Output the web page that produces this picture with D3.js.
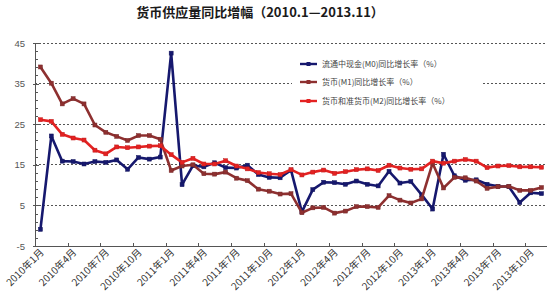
<!DOCTYPE html>
<html><head><meta charset="utf-8">
<script src="https://cdn.jsdelivr.net/npm/d3@7"></script>
<style>body{margin:0;background:#fff}svg{display:block}</style>
</head><body>
<svg id="c" width="550" height="300"></svg>
<script>
const title = "货币供应量同比增幅（2010.1—2013.11）";
const years = [2010, 2011, 2012, 2013];
const months = [];
years.forEach(y => { for (let m = 1; m <= 12; m++) { if (y === 2013 && m > 11) break; months.push(y + "年" + m + "月"); } });
const seriesNames = ["流通中现金(M0)同比增长率（%）", "货币(M1)同比增长率（%）", "货币和准货币(M2)同比增长率（%）"];
const m0 = [-0.9, 22.1, 15.9, 15.8, 15.2, 15.8, 15.6, 16.2, 13.9, 16.8, 16.4, 16.9,
  42.5, 10.1, 14.8, 14.5, 15.5, 14.3, 14.2, 14.9, 12.6, 11.9, 11.8, 13.7,
  3.4, 8.9, 10.7, 10.6, 10.2, 11.0, 10.2, 9.8, 13.4, 10.5, 10.9, 7.6,
  4.1, 17.6, 12.3, 11.2, 11.3, 10.2, 9.7, 9.6, 5.7, 8.1, 7.9];
const m1 = [39.1, 35.1, 30.0, 31.3, 30.0, 24.8, 23.0, 22.0, 21.0, 22.2, 22.2, 21.3,
  13.6, 14.7, 15.0, 12.8, 12.7, 13.2, 11.7, 11.1, 9.0, 8.5, 7.8, 7.9,
  3.2, 4.4, 4.5, 3.1, 3.6, 4.7, 4.7, 4.5, 7.4, 6.3, 5.6, 6.6,
  15.4, 9.3, 11.9, 11.8, 11.0, 9.2, 9.6, 9.7, 8.7, 8.7, 9.4];
const m2 = [26.1, 25.7, 22.5, 21.6, 21.1, 18.6, 17.7, 19.4, 19.2, 19.4, 19.6, 19.7,
  17.5, 15.6, 16.6, 15.2, 15.2, 16.0, 14.7, 14.0, 13.1, 12.8, 12.6, 13.8,
  12.5, 13.2, 13.7, 12.9, 13.3, 13.8, 14.0, 13.6, 14.9, 14.2, 13.9, 14.0,
  15.9, 15.4, 15.9, 16.3, 15.9, 14.3, 14.7, 14.8, 14.5, 14.5, 14.4];
const yTicks = [-5, 5, 15, 25, 35, 45];

const colors = ["#16186e", "#8e3030", "#e42222"];
const data = [m0, m1, m2];

const svg = d3.select("#c");
const L = 35, R = 547, T = 43, B = 246;
const x = d3.scaleBand().domain(d3.range(months.length)).range([L, R]).padding(0);
const cx = i => x(i) + x.bandwidth() / 2;
const y = d3.scaleLinear().domain([-5, 45]).range([B, T]);

svg.append("text").attr("x", 260).attr("y", 17).attr("text-anchor", "middle")
  .attr("font-family", "'Noto Sans CJK SC', sans-serif").attr("font-weight", "bold")
  .attr("font-size", 13).attr("fill", "#1a1a1a").text(title);

// gridlines
svg.append("g").selectAll("line").data(yTicks.filter(v => v > -5)).join("line")
  .attr("x1", L).attr("x2", R).attr("y1", d => y(d)).attr("y2", d => y(d))
  .attr("stroke", "#555").attr("stroke-width", 1).attr("stroke-dasharray", "2,2")
  .attr("shape-rendering", "crispEdges");

// y axis
const minor = d3.range(-5, 45.1, 2);
const yAxisG = svg.append("g");
yAxisG.append("line").attr("x1", L).attr("x2", L).attr("y1", T).attr("y2", B)
  .attr("stroke", "#555").attr("shape-rendering", "crispEdges");
yAxisG.selectAll(".mn").data(minor).join("line")
  .attr("x1", L).attr("x2", L + 3).attr("y1", d => Math.round(y(d)) + 0.5).attr("y2", d => Math.round(y(d)) + 0.5)
  .attr("stroke", "#555");
yAxisG.selectAll(".mj").data(yTicks).join("line")
  .attr("x1", L - 2).attr("x2", L + 4).attr("y1", d => Math.round(y(d)) + 0.5).attr("y2", d => Math.round(y(d)) + 0.5)
  .attr("stroke", "#555");
yAxisG.selectAll("text").data(yTicks).join("text")
  .attr("x", 25).attr("y", d => y(d) + 3.5).attr("text-anchor", "end")
  .attr("font-family", "'Liberation Sans', Arial, sans-serif").attr("font-size", 9.5).attr("fill", "#555")
  .text(d => d);

// x axis
const xAxisG = svg.append("g");
xAxisG.append("line").attr("x1", L).attr("x2", R).attr("y1", B + 0.5).attr("y2", B + 0.5)
  .attr("stroke", "#555");
const tickIdx = d3.range(3, months.length, 3);
xAxisG.selectAll(".tk").data(tickIdx).join("line")
  .attr("x1", d => Math.round(x(d)) + 0.5).attr("x2", d => Math.round(x(d)) + 0.5)
  .attr("y1", B - 3).attr("y2", B).attr("stroke", "#555");
const labIdx = d3.range(0, months.length, 3);
xAxisG.selectAll("text").data(labIdx).join("text")
  .attr("transform", d => `translate(${cx(d) + 4},${B + 7}) rotate(-45)`)
  .attr("text-anchor", "end")
  .attr("font-family", "'Noto Sans CJK SC', sans-serif").attr("font-size", 10).attr("fill", "#333")
  .text(d => months[d]);

// legend background
svg.append("rect").attr("x", 292).attr("y", 52).attr("width", 190).attr("height", 60).attr("fill", "#fff");

// series
const line = d3.line().x((d, i) => cx(i)).y(d => y(d));
data.forEach((s, k) => {
  const g = svg.append("g");
  g.append("path").datum(s).attr("d", line).attr("fill", "none")
    .attr("stroke", colors[k]).attr("stroke-width", 2.6).attr("stroke-linejoin", "round");
  g.selectAll("rect").data(s).join("rect")
    .attr("x", (d, i) => cx(i) - 2).attr("y", d => y(d) - 2).attr("width", 4).attr("height", 4)
    .attr("fill", colors[k]).attr("stroke", d3.color(colors[k]).darker(0.5)).attr("stroke-width", 0.5);
});

// legend
const lg = svg.append("g");
const ly = [64, 82, 101];
seriesNames.forEach((n, k) => {
  lg.append("line").attr("x1", 300).attr("x2", 317).attr("y1", ly[k]).attr("y2", ly[k])
    .attr("stroke", colors[k]).attr("stroke-width", 2.4);
  lg.append("rect").attr("x", 306.5).attr("y", ly[k] - 2).attr("width", 4).attr("height", 4).attr("fill", colors[k]);
  lg.append("text").attr("x", 322).attr("y", ly[k] + 3)
    .attr("font-family", "'Noto Sans CJK SC', sans-serif").attr("font-size", 8).attr("fill", "#444")
    .text(n);
});
</script>
</body></html>
